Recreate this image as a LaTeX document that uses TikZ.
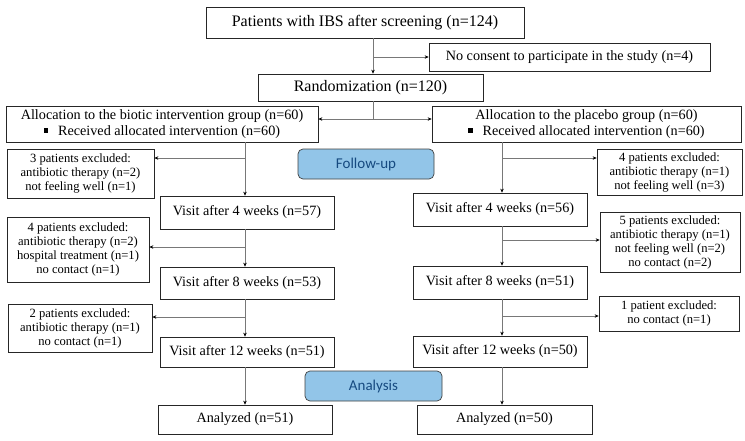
\documentclass[tikz,border=0pt]{standalone}
\usepackage{fontspec}
\setmainfont{Liberation Serif}
\newfontfamily\calibri{Carlito}
\usepackage{tikz}
\usetikzlibrary{calc,arrows.meta}

\definecolor{phasefill}{RGB}{146,197,232}
\definecolor{phasetext}{RGB}{22,74,128}
\definecolor{linkgray}{RGB}{120,120,120}

\tikzset{
  box/.style={draw=black!85, line width=0.7pt, inner sep=0pt, align=center,
    font=\fontsize{14.2}{15.5}\selectfont},
  bigbox/.style={box, font=\fontsize{16}{18}\selectfont},
  exclbox/.style={box, font=\fontsize{12.6}{14}\selectfont},
  phase/.style={draw=black!75, line width=0.7pt, fill=phasefill, rounded corners=5pt,
    inner sep=0pt, text=phasetext, font=\calibri\fontsize{15}{17}\selectfont},
  link/.style={draw=linkgray, line width=0.6pt, -{Stealth[length=4pt,width=3.5pt,color=black]}},
  trunk/.style={draw=linkgray, line width=0.6pt}
}
\newcommand{\sqbullet}{\rule[0.18em]{0.3em}{0.3em}\hspace{0.7em}}

\begin{document}
\begin{tikzpicture}[x=1pt,y=-1pt]
\useasboundingbox (0,0) rectangle (745,440);

\node[bigbox, minimum width=318, minimum height=31] (screen) at (365,22.5)
  {Patients with IBS after screening (n=124)};
\node[box, minimum width=281, minimum height=28] (noconsent) at (569.5,57)
  {No consent to participate in the study (n=4)};
\node[bigbox, minimum width=225, minimum height=27] (random) at (370.5,87.5)
  {Randomization (n=120)};
\node[box, minimum width=312, minimum height=36] (allocL) at (162,124)
  {Allocation to the biotic intervention group (n=60)\\ \sqbullet Received allocated intervention (n=60)};
\node[box, minimum width=309, minimum height=36] (allocR) at (586.5,124)
  {Allocation to the placebo group (n=60)\\ \sqbullet Received allocated intervention (n=60)};

\node[phase, minimum width=136, minimum height=30] (followup) at (366,164) {Follow-up};
\node[phase, minimum width=137, minimum height=30] (analysis) at (373.5,386) {Analysis};

% biotic arm
\node[exclbox, minimum width=147, minimum height=49] (exclL1) at (80.5,173.5)
  {3 patients excluded:\\ antibiotic therapy (n=2)\\ not feeling well (n=1)};
\node[box, minimum width=174, minimum height=33] (visL4) at (247,212.5) {Visit after 4 weeks (n=57)};
\node[exclbox, minimum width=142, minimum height=65] (exclL2) at (78,249.5)
  {4 patients excluded:\\ antibiotic therapy (n=2)\\ hospital treatment (n=1)\\ no contact (n=1)};
\node[box, minimum width=174, minimum height=32] (visL8) at (247,283) {Visit after 8 weeks (n=53)};
\node[exclbox, minimum width=144, minimum height=48] (exclL3) at (80,328)
  {2 patients excluded:\\ antibiotic therapy (n=1)\\ no contact (n=1)};
\node[box, minimum width=174, minimum height=30] (visL12) at (247,352) {Visit after 12 weeks (n=51)};
\node[box, minimum width=174, minimum height=29] (anaL) at (245,419.5) {Analyzed (n=51)};

% placebo arm
\node[exclbox, minimum width=145, minimum height=46] (exclR1) at (669.5,172)
  {4 patients excluded:\\ antibiotic therapy (n=1)\\ not feeling well (n=3)};
\node[box, minimum width=174, minimum height=33] (visR4) at (500,209.5) {Visit after 4 weeks (n=56)};
\node[exclbox, minimum width=140, minimum height=60] (exclR2) at (670,242)
  {5 patients excluded:\\ antibiotic therapy (n=1)\\ not feeling well (n=2)\\ no contact (n=2)};
\node[box, minimum width=174, minimum height=33] (visR8) at (500,282.5) {Visit after 8 weeks (n=51)};
\node[exclbox, minimum width=140, minimum height=35] (exclR3) at (669,313.5)
  {1 patient excluded:\\ no contact (n=1)};
\node[box, minimum width=174, minimum height=31] (visR12) at (500,351.5) {Visit after 12 weeks (n=50)};
\node[box, minimum width=175, minimum height=29] (anaR) at (504.5,419.5) {Analyzed (n=50)};

\coordinate (split) at (373,119);
\coordinate (jL1) at (245,158);
\coordinate (jL2) at (245,247);
\coordinate (jL3) at (245,317);
\coordinate (jR1) at (502,158);
\coordinate (jR2) at (502,240);
\coordinate (jR3) at (502,316);

\draw[link] (screen.south -| split) -- (random.north -| split);
\draw[link] (noconsent.west -| split) -- (noconsent.west);
\draw[trunk] (random.south -| split) -- (split);
\draw[link] (split) -- (split -| allocL.east);
\draw[link] (split) -- (split -| allocR.west);

\draw[link] (allocL.south -| jL1) -- (visL4.north -| jL1);
\draw[link] (jL1) -- (jL1 -| exclL1.east);
\draw[link] (visL4.south -| jL2) -- (visL8.north -| jL2);
\draw[link] (jL2) -- (jL2 -| exclL2.east);
\draw[link] (visL8.south -| jL3) -- (visL12.north -| jL3);
\draw[link] (jL3) -- (jL3 -| exclL3.east);
\draw[link] (visL12.south -| jL3) -- (anaL.north -| jL3);

\draw[link] (allocR.south -| jR1) -- (visR4.north -| jR1);
\draw[link] (jR1) -- (jR1 -| exclR1.west);
\draw[link] (visR4.south -| jR2) -- (visR8.north -| jR2);
\draw[link] (jR2) -- (jR2 -| exclR2.west);
\draw[link] (visR8.south -| jR3) -- (visR12.north -| jR3);
\draw[link] (jR3) -- (jR3 -| exclR3.west);
\draw[link] (visR12.south -| jR3) -- (anaR.north -| jR3);

\end{tikzpicture}
\end{document}
